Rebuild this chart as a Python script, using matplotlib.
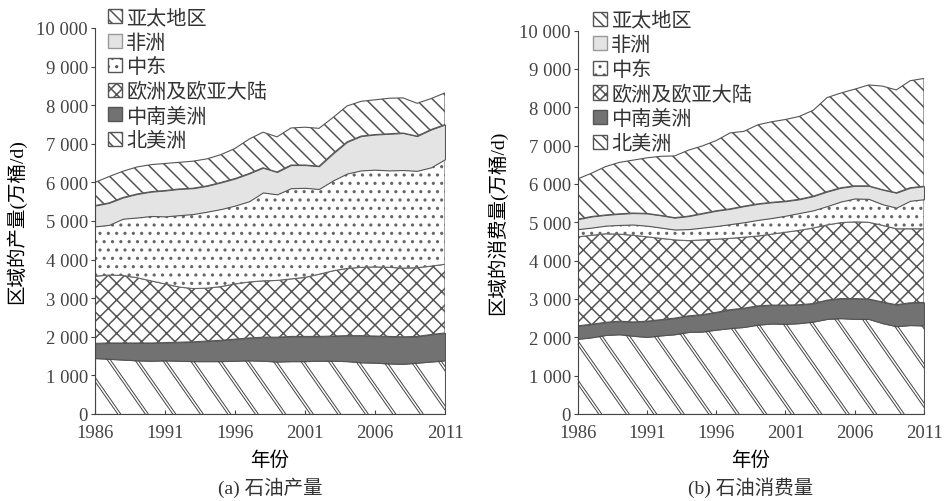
import matplotlib
matplotlib.use('Agg')
import matplotlib.pyplot as plt
import numpy as np
from matplotlib.patches import Patch
from matplotlib.collections import LineCollection

plt.rcParams['font.family'] = ['Liberation Serif', 'Noto Sans CJK SC']
plt.rcParams['hatch.linewidth'] = 1.1
plt.rcParams['text.color'] = '#333333'
plt.rcParams['axes.edgecolor'] = '#444444'
plt.rcParams['xtick.color'] = '#444444'
plt.rcParams['ytick.color'] = '#444444'

years = np.arange(1986, 2012)
regions = ['北美洲', '中南美洲', '欧洲及欧亚大陆', '中东', '非洲', '亚太地区']

# 石油产量 (万桶/d)
prod_na = [1450, 1430, 1410, 1390, 1380, 1390, 1380, 1370, 1370, 1370, 1380, 1390, 1380,
           1360, 1370, 1370, 1380, 1380, 1370, 1340, 1330, 1310, 1300, 1330, 1360, 1390]
prod_sca = [380, 410, 430, 450, 460, 460, 480, 500, 520, 540, 560, 580, 610,
            630, 640, 640, 630, 640, 660, 690, 690, 700, 700, 680, 700, 710]
prod_ee = [1740, 1760, 1750, 1690, 1610, 1520, 1430, 1380, 1370, 1390, 1430, 1450, 1460,
           1470, 1490, 1530, 1610, 1690, 1740, 1770, 1790, 1790, 1780, 1780, 1770, 1780]
prod_me = [1290, 1300, 1470, 1560, 1680, 1750, 1860, 1930, 1980, 2010, 2030, 2090, 2290,
           2230, 2350, 2320, 2210, 2340, 2460, 2510, 2520, 2510, 2540, 2510, 2560, 2720]
prod_af = [540, 570, 550, 610, 630, 670, 680, 670, 670, 690, 700, 720, 640,
           580, 600, 590, 590, 700, 820, 890, 910, 950, 960, 900, 980, 900]
prod_ap = [600, 680, 680, 700, 700, 700, 690, 700, 700, 720, 780, 890, 920,
           910, 960, 980, 980, 930, 930, 900, 900, 920, 910, 850, 800, 820]

# 石油消费量 (万桶/d)
cons_na = [1960, 2000, 2060, 2080, 2040, 2010, 2050, 2080, 2140, 2150, 2200, 2240, 2270,
           2330, 2360, 2350, 2370, 2410, 2480, 2500, 2480, 2480, 2370, 2290, 2320, 2310]
cons_sca = [340, 340, 330, 340, 360, 410, 410, 420, 420, 440, 450, 480, 490,
            490, 480, 490, 480, 470, 490, 510, 530, 520, 550, 560, 580, 600]
cons_ee = [2320, 2320, 2310, 2270, 2260, 2200, 2120, 2040, 1960, 1950, 1910, 1860, 1850,
           1820, 1850, 1900, 1940, 1970, 1960, 1980, 2000, 2000, 2000, 1980, 1930, 1920]
cons_me = [200, 200, 210, 240, 280, 290, 280, 270, 300, 320, 340, 370, 390,
           420, 420, 430, 450, 460, 490, 550, 610, 610, 550, 550, 730, 770]
cons_af = [260, 290, 280, 290, 300, 320, 320, 310, 340, 370, 400, 400, 420,
           420, 410, 380, 360, 370, 380, 360, 330, 340, 380, 390, 340, 340]
cons_ap = [1050, 1130, 1260, 1340, 1380, 1450, 1540, 1610, 1720, 1760, 1830, 1980, 1950,
           2060, 2100, 2130, 2160, 2240, 2450, 2470, 2520, 2630, 2700, 2680, 2790, 2810]

yticks = [0, 1000, 2000, 3000, 4000, 5000, 6000, 7000, 8000, 9000, 10000]
ytick_labels = ['0', '1 000', '2 000', '3 000', '4 000', '5 000',
                '6 000', '7 000', '8 000', '9 000', '10 000']
xticks = [1986, 1991, 1996, 2001, 2006, 2011]

fills = ['white', '#727272', 'white', 'white', '#e4e4e4', 'white']
hatches = [None, None, 'xx', '..', None, '\\\\']
line_col = '#555555'

W, H = 952, 502
fig = plt.figure(figsize=(W / 100, H / 100), dpi=100)


def double_hatch(ax, poly, spacing=27.5, angle=55, gap=3.0):
    # wide "\\" hatch made of paired thin lines, clipped to one layer
    pos = ax.get_position()
    wpx, hpx = pos.width * W, pos.height * H
    run = hpx / np.tan(np.radians(angle)) / wpx
    sp = spacing / wpx
    segs = []
    for k in range(-20, 40):
        x0 = k * sp
        for off in (0, gap / wpx):
            segs.append([(x0 + off, 1.0), (x0 + off + run, 0.0)])
    lc = LineCollection(segs, colors='#444444', linewidths=0.7, transform=ax.transAxes)
    lc.set_clip_path(poly.get_paths()[0], ax.transData)
    ax.add_collection(lc)


def draw_panel(rect, layers, ylabel, caption, leg_x, ylab_x):
    ax = fig.add_axes(rect)
    polys = ax.stackplot(years, *layers, colors=fills, hatch=hatches,
                         edgecolor=line_col, linewidth=0.8)
    polys[3].set_edgecolor('#666666')
    double_hatch(ax, polys[0])

    ax.set_xlim(1986, 2011)
    ax.set_ylim(0, 10000)
    ax.set_yticks(yticks)
    ax.set_yticklabels(ytick_labels)
    ax.set_xticks(xticks)
    ax.tick_params(axis='y', direction='out', length=3, labelsize=13.5, pad=2)
    ax.tick_params(axis='x', direction='in', length=3, labelsize=13.5, pad=7)
    for s in ('top', 'right'):
        ax.spines[s].set_visible(False)
    ax.set_ylabel(ylabel, fontsize=14, fontweight='light')
    ax.yaxis.set_label_coords(ylab_x, 0.5)
    ax.set_xlabel('年份', fontsize=14, fontweight='light')
    ax.xaxis.set_label_coords(0.5, -0.095)

    handles = [
        Patch(facecolor='white', edgecolor=line_col, hatch='\\\\\\', label='亚太地区'),
        Patch(facecolor='#e4e4e4', edgecolor='#999999', label='非洲'),
        Patch(facecolor='white', edgecolor=line_col, hatch='..', label='中东'),
        Patch(facecolor='white', edgecolor=line_col, hatch='xxx', label='欧洲及欧亚大陆'),
        Patch(facecolor='#727272', edgecolor=line_col, label='中南美洲'),
        Patch(facecolor='white', edgecolor=line_col, hatch='\\\\\\', label='北美洲'),
    ]
    ax.legend(handles=handles, loc='upper left', bbox_to_anchor=(leg_x, 1.049),
              frameon=False, prop={'size': 14.5, 'weight': 'light'},
              handlelength=0.7, handleheight=0.7,
              handletextpad=0.2, labelspacing=0.27, borderaxespad=0, borderpad=0)

    pos = ax.get_position()
    fig.text(pos.x0 + pos.width / 2, 0.028, caption, ha='center', va='center',
             fontsize=14, fontweight='light')
    return ax


draw_panel([95 / W, 87 / H, 350 / W, 386 / H],
           [prod_na, prod_sca, prod_ee, prod_me, prod_af, prod_ap],
           '区域的产量(万桶/d)', '(a) 石油产量', 0.037, -0.197)
draw_panel([577.7 / W, 87 / H, 346.3 / W, 383.5 / H],
           [cons_na, cons_sca, cons_ee, cons_me, cons_af, cons_ap],
           '区域的消费量(万桶/d)', '(b) 石油消费量', 0.044, -0.204)

fig.savefig('out.png', dpi=100, facecolor='white')
